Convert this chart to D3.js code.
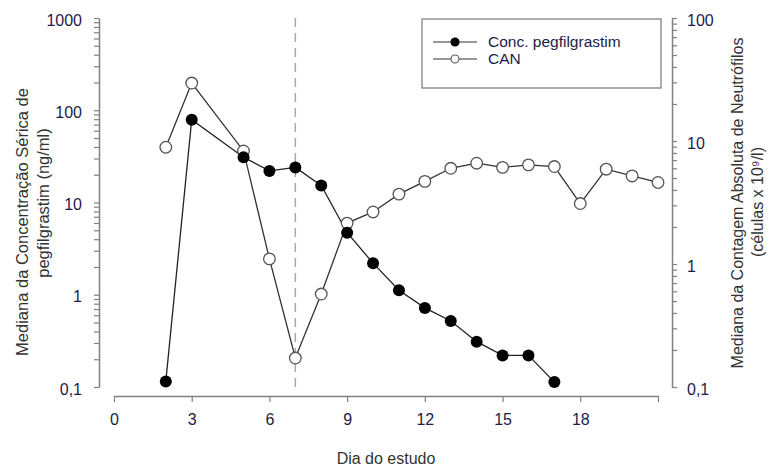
<!DOCTYPE html>
<html>
<head>
<meta charset="utf-8">
<script src="https://cdn.jsdelivr.net/npm/d3@7"></script>
<style>
  body { margin: 0; background: #fff; }
  svg text { font-family: "Liberation Sans", Arial, sans-serif; }
</style>
</head>
<body>
<div id="chart"></div>
<script>
  // dias do estudo
  var diasPeg = [2, 3, 5, 6, 7, 8, 9, 10, 11, 12, 13, 14, 15, 16, 17];
  var concPeg = [0.115, 79, 31, 22, 24, 15.3, 4.7, 2.2, 1.12, 0.72, 0.52, 0.31, 0.22, 0.22, 0.113];
  var diasCan = [2, 3, 5, 6, 7, 8, 9, 10, 11, 12, 13, 14, 15, 16, 17, 18, 19, 20, 21];
  var can = [8.9, 29.6, 8.3, 1.1, 0.172, 0.57, 2.15, 2.65, 3.7, 4.7, 6.0, 6.6, 6.1, 6.4, 6.2, 3.1, 5.9, 5.2, 4.6];
  var xTicks = [0, 3, 6, 9, 12, 15, 18, 21];
  var leftMajor = [0.1, 1, 10, 100, 1000];
  var rightMajor = [0.1, 1, 10, 100];
  var diaLinha = 7;

  var width = 771, height = 468;
  var tickColor = '#1c1c4a';
  var axisColor = '#808080';

  var svg = d3.select('#chart').append('svg')
    .attr('width', width)
    .attr('height', height);

  var x = d3.scaleLinear().domain([0, 21]).range([114, 658]);
  var yL = d3.scaleLog().domain([0.1, 1000]).range([387, 18]);
  var yR = d3.scaleLog().domain([0.1, 100]).range([387, 18]);

  var fmt = function (d) { return String(d).replace('.', ','); };

  function logTicks(majors) {
    var t = [];
    majors.forEach(function (m, i) {
      if (i === majors.length - 1) { t.push(m); return; }
      for (var k = 1; k < 10; k++) t.push(m * k);
    });
    return t;
  }
  function isMajor(majors, d) {
    return majors.some(function (m) { return Math.abs(m - d) / m < 1e-6; });
  }

  function styleAxis(g) {
    g.select('.domain').attr('stroke', axisColor).attr('stroke-width', 1.5);
    g.selectAll('.tick line').attr('stroke', axisColor).attr('stroke-width', 1.2);
    g.selectAll('.tick text').attr('fill', tickColor).style('font-size', '16px');
  }

  // eixo esquerdo
  var gL = svg.append('g').attr('transform', 'translate(99,0)')
    .call(d3.axisLeft(yL)
      .tickValues(logTicks(leftMajor))
      .tickSize(5).tickSizeOuter(0).tickPadding(12)
      .tickFormat(function (d) { return isMajor(leftMajor, d) ? fmt(d) : ''; }));
  styleAxis(gL);
  gL.selectAll('.tick text').attr('dy', '0.45em');

  // eixo direito
  var gR = svg.append('g').attr('transform', 'translate(672,0)')
    .call(d3.axisRight(yR)
      .tickValues(logTicks(rightMajor))
      .tickSize(5).tickSizeOuter(0).tickPadding(10)
      .tickFormat(function (d) { return isMajor(rightMajor, d) ? fmt(d) : ''; }));
  styleAxis(gR);
  gR.selectAll('.tick text').attr('dy', '0.45em');

  // eixo x
  var gX = svg.append('g').attr('transform', 'translate(0,396)')
    .call(d3.axisBottom(x)
      .tickValues(xTicks)
      .tickSize(6).tickSizeOuter(0).tickPadding(12)
      .tickFormat(function (d) { return d === 21 ? '' : d; }));
  styleAxis(gX);

  // titulos
  svg.append('text')
    .attr('x', 386).attr('y', 464)
    .attr('text-anchor', 'middle')
    .attr('fill', '#333')
    .style('font-size', '16px')
    .text('Dia do estudo');

  svg.append('text')
    .attr('transform', 'translate(28,222) rotate(-90)')
    .attr('text-anchor', 'middle')
    .attr('fill', '#333')
    .style('font-size', '16.5px')
    .text('Mediana da Concentração Sérica de');
  svg.append('text')
    .attr('transform', 'translate(49,203) rotate(-90)')
    .attr('text-anchor', 'middle')
    .attr('fill', '#333')
    .style('font-size', '16.5px')
    .text('pegfilgrastim (ng/ml)');

  svg.append('text')
    .attr('transform', 'translate(743,203) rotate(-90)')
    .attr('text-anchor', 'middle')
    .attr('fill', '#333')
    .style('font-size', '16px')
    .text('Mediana da Contagem Absoluta de Neutrófilos');
  svg.append('text')
    .attr('transform', 'translate(763,202) rotate(-90)')
    .attr('text-anchor', 'middle')
    .attr('fill', '#333')
    .style('font-size', '16px')
    .text('(células x 10⁹/l)');

  // linha tracejada
  svg.append('line')
    .attr('x1', x(diaLinha)).attr('x2', x(diaLinha))
    .attr('y1', 18).attr('y2', 390)
    .attr('stroke', '#a8a8a8')
    .attr('stroke-width', 1.5)
    .attr('stroke-dasharray', '9,6');

  // CAN
  var canData = diasCan.map(function (d, i) { return [d, can[i]]; });
  svg.append('path')
    .datum(canData)
    .attr('fill', 'none')
    .attr('stroke', '#333')
    .attr('stroke-width', 1.3)
    .attr('d', d3.line().x(function (d) { return x(d[0]); }).y(function (d) { return yR(d[1]); }));

  // pegfilgrastim
  var pegData = diasPeg.map(function (d, i) { return [d, concPeg[i]]; });
  svg.append('path')
    .datum(pegData)
    .attr('fill', 'none')
    .attr('stroke', '#222')
    .attr('stroke-width', 1.3)
    .attr('d', d3.line().x(function (d) { return x(d[0]); }).y(function (d) { return yL(d[1]); }));

  svg.selectAll('.can-pt').data(canData).enter().append('circle')
    .attr('cx', function (d) { return x(d[0]); })
    .attr('cy', function (d) { return yR(d[1]); })
    .attr('r', 5.8)
    .attr('fill', '#fff')
    .attr('stroke', '#555')
    .attr('stroke-width', 1.3);

  svg.selectAll('.peg-pt').data(pegData).enter().append('circle')
    .attr('cx', function (d) { return x(d[0]); })
    .attr('cy', function (d) { return yL(d[1]); })
    .attr('r', 6)
    .attr('fill', '#000');

  // legenda
  var leg = svg.append('g');
  leg.append('rect')
    .attr('x', 422).attr('y', 19)
    .attr('width', 239).attr('height', 69)
    .attr('fill', '#fff')
    .attr('stroke', '#777')
    .attr('stroke-width', 1.2);
  var itens = [
    { nome: 'Conc. pegfilgrastim', cheio: true, y: 42 },
    { nome: 'CAN', cheio: false, y: 59 }
  ];
  itens.forEach(function (it) {
    leg.append('line')
      .attr('x1', 433).attr('x2', 477)
      .attr('y1', it.y).attr('y2', it.y)
      .attr('stroke', '#333').attr('stroke-width', 1.2);
    leg.append('circle')
      .attr('cx', 455).attr('cy', it.y)
      .attr('r', 4)
      .attr('fill', it.cheio ? '#000' : '#fff')
      .attr('stroke', it.cheio ? '#000' : '#555')
      .attr('stroke-width', 1.1);
    leg.append('text')
      .attr('x', 488).attr('y', it.y)
      .attr('dy', '0.35em')
      .attr('fill', tickColor)
      .style('font-size', '15.5px')
      .text(it.nome);
  });
</script>
</body>
</html>
